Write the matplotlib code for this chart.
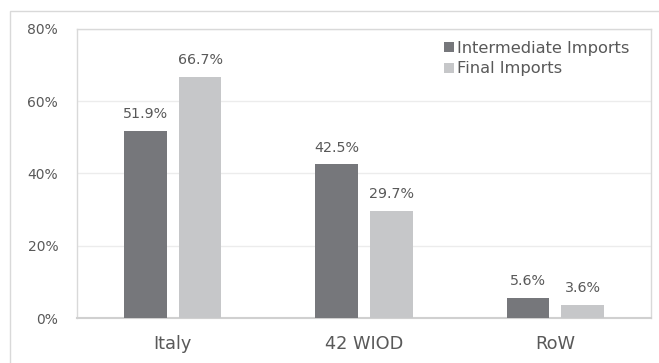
import matplotlib.pyplot as plt
import numpy as np
from matplotlib.patches import Rectangle

categories = ["Italy", "42 WIOD", "RoW"]
intermediate = [51.9, 42.5, 5.6]
final = [66.7, 29.7, 3.6]
series_names = ["Intermediate Imports", "Final Imports"]
yticks = [0, 20, 40, 60, 80]

DARK = "#76777b"
LIGHT = "#c6c7c9"
TEXT = "#595959"

plt.rcParams["font.family"] = ["DejaVu Sans"]

fig = plt.figure(figsize=(6.59, 3.63), dpi=100)
fig.patches.append(Rectangle((10 / 659, -0.1), 1.0, 1 - 11 / 363 + 0.1, transform=fig.transFigure,
                             fill=False, edgecolor="#d9d9d9", linewidth=1.0))
ax = fig.add_axes([77 / 659, 1 - 318 / 363, (651 - 77) / 659, (318 - 29) / 363])

x = np.arange(len(categories))
width = 0.223
offset = 0.143
b1 = ax.bar(x - offset, intermediate, width, color=DARK, label=series_names[0], zorder=3)
b2 = ax.bar(x + offset, final, width, color=LIGHT, label=series_names[1], zorder=3)

for bars in (b1, b2):
    for rect in bars:
        h = rect.get_height()
        ax.annotate(f"{h:.1f}%", (rect.get_x() + rect.get_width() / 2, h),
                    xytext=(0, 7), textcoords="offset points", ha="center", va="bottom",
                    fontsize=10.3, color=TEXT)

ax.set_xlim(-0.5, 2.5)
ax.set_ylim(0, 80)
ax.set_yticks(yticks, labels=[f"{v}%" for v in yticks])
ax.set_xticks(x, labels=categories)
ax.tick_params(axis="both", length=0, labelcolor=TEXT)
ax.tick_params(axis="y", pad=13.5, labelsize=10)
ax.tick_params(axis="x", pad=12, labelsize=12.8)
ax.grid(axis="y", color="#ececec", linewidth=1.0, zorder=0)
for side in ("left", "right", "top"):
    ax.spines[side].set_color("#d9d9d9")
    ax.spines[side].set_linewidth(1.0)
ax.spines["bottom"].set_color("#d0d0d0")
ax.spines["bottom"].set_linewidth(1.5)

ax.legend(loc="upper right", bbox_to_anchor=(0.987, 1.01), frameon=False, fontsize=11.7,
          handlelength=0.6, handleheight=0.6, handletextpad=0.15, labelspacing=0.35,
          labelcolor=TEXT)

fig.savefig("out.png", dpi=100)
